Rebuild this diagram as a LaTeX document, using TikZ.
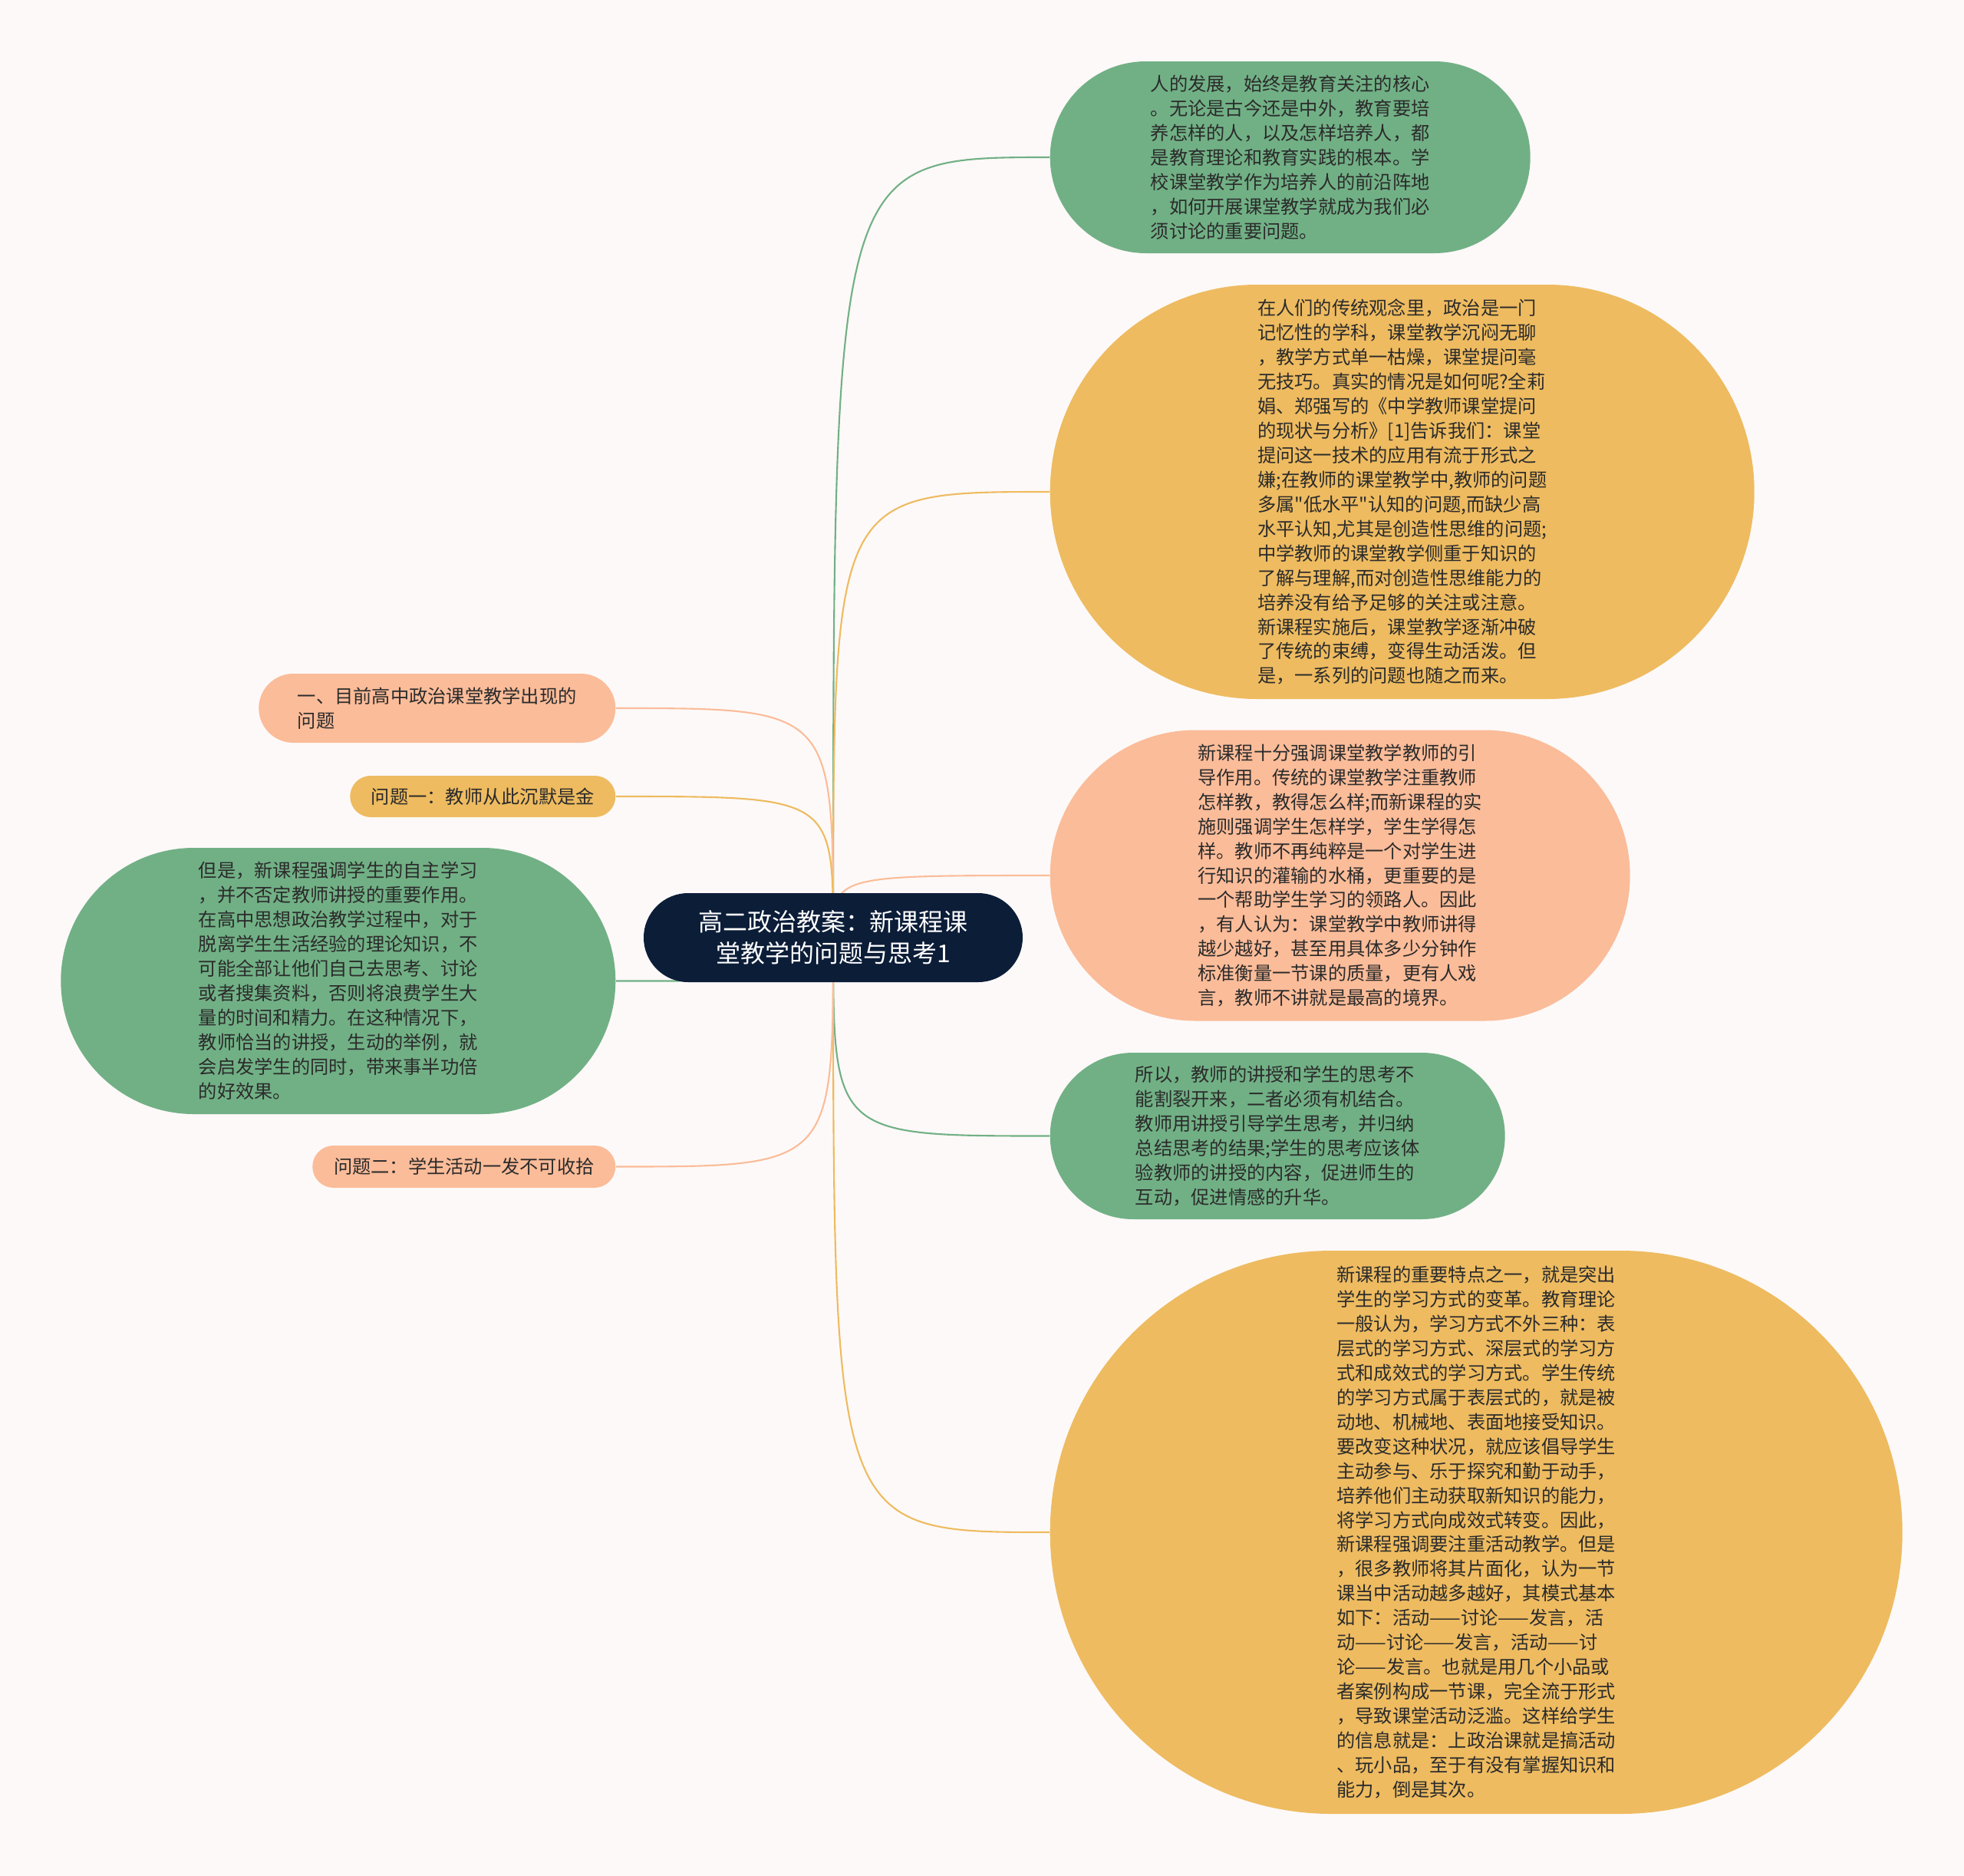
\documentclass[tikz,border=0pt]{standalone}
\usepackage{fontspec}
\setmainfont{Noto Sans CJK SC}
\newfontfamily\cjkfont{Noto Sans CJK SC}
\usetikzlibrary{backgrounds}
\definecolor{bg}{HTML}{FDF9F8}
\definecolor{navy}{HTML}{0C1D38}
\definecolor{grn}{HTML}{71B085}
\definecolor{ylw}{HTML}{EEBB60}
\definecolor{sal}{HTML}{FBBC99}
\definecolor{ink}{HTML}{2B2B2B}
\tikzset{
  pill/.style n args={3}{fill=#1, minimum width=#2cm, minimum height=#3cm,
    rounded corners=#3*0.5cm, inner sep=2pt, align=left, text=ink,
    font=\cjkfont\fontsize{6.9pt}{9.1pt}\selectfont},
  rootbox/.style={fill=navy, text=white, minimum width=4.94cm, minimum height=1.16cm,
    rounded corners=0.58cm, align=center, font=\cjkfont\fontsize{9.1pt}{11.6pt}\selectfont},
  link/.style={draw=#1, line width=0.6pt}}

\begin{document}
\begin{tikzpicture}
\useasboundingbox (0,0) rectangle (25.6,-24.45);
\node[rootbox] (root) at (10.86,-12.22) {高二政治教案：新课程课\\堂教学的问题与思考1};
\node[pill={grn}{6.26}{2.50}, anchor=west] (c1) at (13.68,-2.05) {人的发展，始终是教育关注的核心\\。无论是古今还是中外，教育要培\\养怎样的人，以及怎样培养人，都\\是教育理论和教育实践的根本。学\\校课堂教学作为培养人的前沿阵地\\，如何开展课堂教学就成为我们必\\须讨论的重要问题。};
\node[pill={ylw}{9.18}{5.40}, anchor=west] (c2) at (13.68,-6.41) {在人们的传统观念里，政治是一门\\记忆性的学科，课堂教学沉闷无聊\\，教学方式单一枯燥，课堂提问毫\\无技巧。真实的情况是如何呢?全莉\\娟、郑强写的《中学教师课堂提问\\的现状与分析》[1]告诉我们：课堂\\提问这一技术的应用有流于形式之\\嫌;在教师的课堂教学中,教师的问题\\多属"低水平"认知的问题,而缺少高\\水平认知,尤其是创造性思维的问题;\\中学教师的课堂教学侧重于知识的\\了解与理解,而对创造性思维能力的\\培养没有给予足够的关注或注意。\\新课程实施后，课堂教学逐渐冲破\\了传统的束缚，变得生动活泼。但\\是，一系列的问题也随之而来。};
\node[pill={sal}{7.56}{3.79}, anchor=west] (c3) at (13.68,-11.41) {新课程十分强调课堂教学教师的引\\导作用。传统的课堂教学注重教师\\怎样教，教得怎么样;而新课程的实\\施则强调学生怎样学，学生学得怎\\样。教师不再纯粹是一个对学生进\\行知识的灌输的水桶，更重要的是\\一个帮助学生学习的领路人。因此\\，有人认为：课堂教学中教师讲得\\越少越好，甚至用具体多少分钟作\\标准衡量一节课的质量，更有人戏\\言，教师不讲就是最高的境界。};
\node[pill={grn}{5.93}{2.17}, anchor=west] (c4) at (13.68,-14.805) {所以，教师的讲授和学生的思考不\\能割裂开来，二者必须有机结合。\\教师用讲授引导学生思考，并归纳\\总结思考的结果;学生的思考应该体\\验教师的讲授的内容，促进师生的\\互动，促进情感的升华。};
\node[pill={ylw}{11.11}{7.34}, anchor=west] (c5) at (13.68,-19.97) {新课程的重要特点之一，就是突出\\学生的学习方式的变革。教育理论\\一般认为，学习方式不外三种：表\\层式的学习方式、深层式的学习方\\式和成效式的学习方式。学生传统\\的学习方式属于表层式的，就是被\\动地、机械地、表面地接受知识。\\要改变这种状况，就应该倡导学生\\主动参与、乐于探究和勤于动手，\\培养他们主动获取新知识的能力，\\将学习方式向成效式转变。因此，\\新课程强调要注重活动教学。但是\\，很多教师将其片面化，认为一节\\课当中活动越多越好，其模式基本\\如下：活动——讨论——发言，活\\动——讨论——发言，活动——讨\\论——发言。也就是用几个小品或\\者案例构成一节课，完全流于形式\\，导致课堂活动泛滥。这样给学生\\的信息就是：上政治课就是搞活动\\、玩小品，至于有没有掌握知识和\\能力，倒是其次。};
\node[pill={sal}{4.65}{0.90}, anchor=east] (l1) at (8.03,-9.23) {一、目前高中政治课堂教学出现的\\问题};
\node[pill={ylw}{3.46}{0.54}, anchor=east] (l2) at (8.03,-10.38) {问题一：教师从此沉默是金};
\node[pill={grn}{7.23}{3.47}, anchor=east] (l3) at (8.03,-12.785) {但是，新课程强调学生的自主学习\\，并不否定教师讲授的重要作用。\\在高中思想政治教学过程中，对于\\脱离学生生活经验的理论知识，不\\可能全部让他们自己去思考、讨论\\或者搜集资料，否则将浪费学生大\\量的时间和精力。在这种情况下，\\教师恰当的讲授，生动的举例，就\\会启发学生的同时，带来事半功倍\\的好效果。};
\node[pill={sal}{3.95}{0.55}, anchor=east] (l4) at (8.03,-15.205) {问题二：学生活动一发不可收拾};
\begin{scope}[on background layer]
\fill[bg] (0,0) rectangle (25.6,-24.45);
\foreach \n/\c in {c1/grn, c2/ylw, c3/sal, c4/grn, c5/ylw}
  \draw[link=\c] (root.center) .. controls (root.center |- \n.west) .. (\n.west);
\foreach \n/\c in {l1/sal, l2/ylw, l3/grn, l4/sal}
  \draw[link=\c] (root.center) .. controls (root.center |- \n.east) .. (\n.east);
\end{scope}
\end{tikzpicture}
\end{document}
